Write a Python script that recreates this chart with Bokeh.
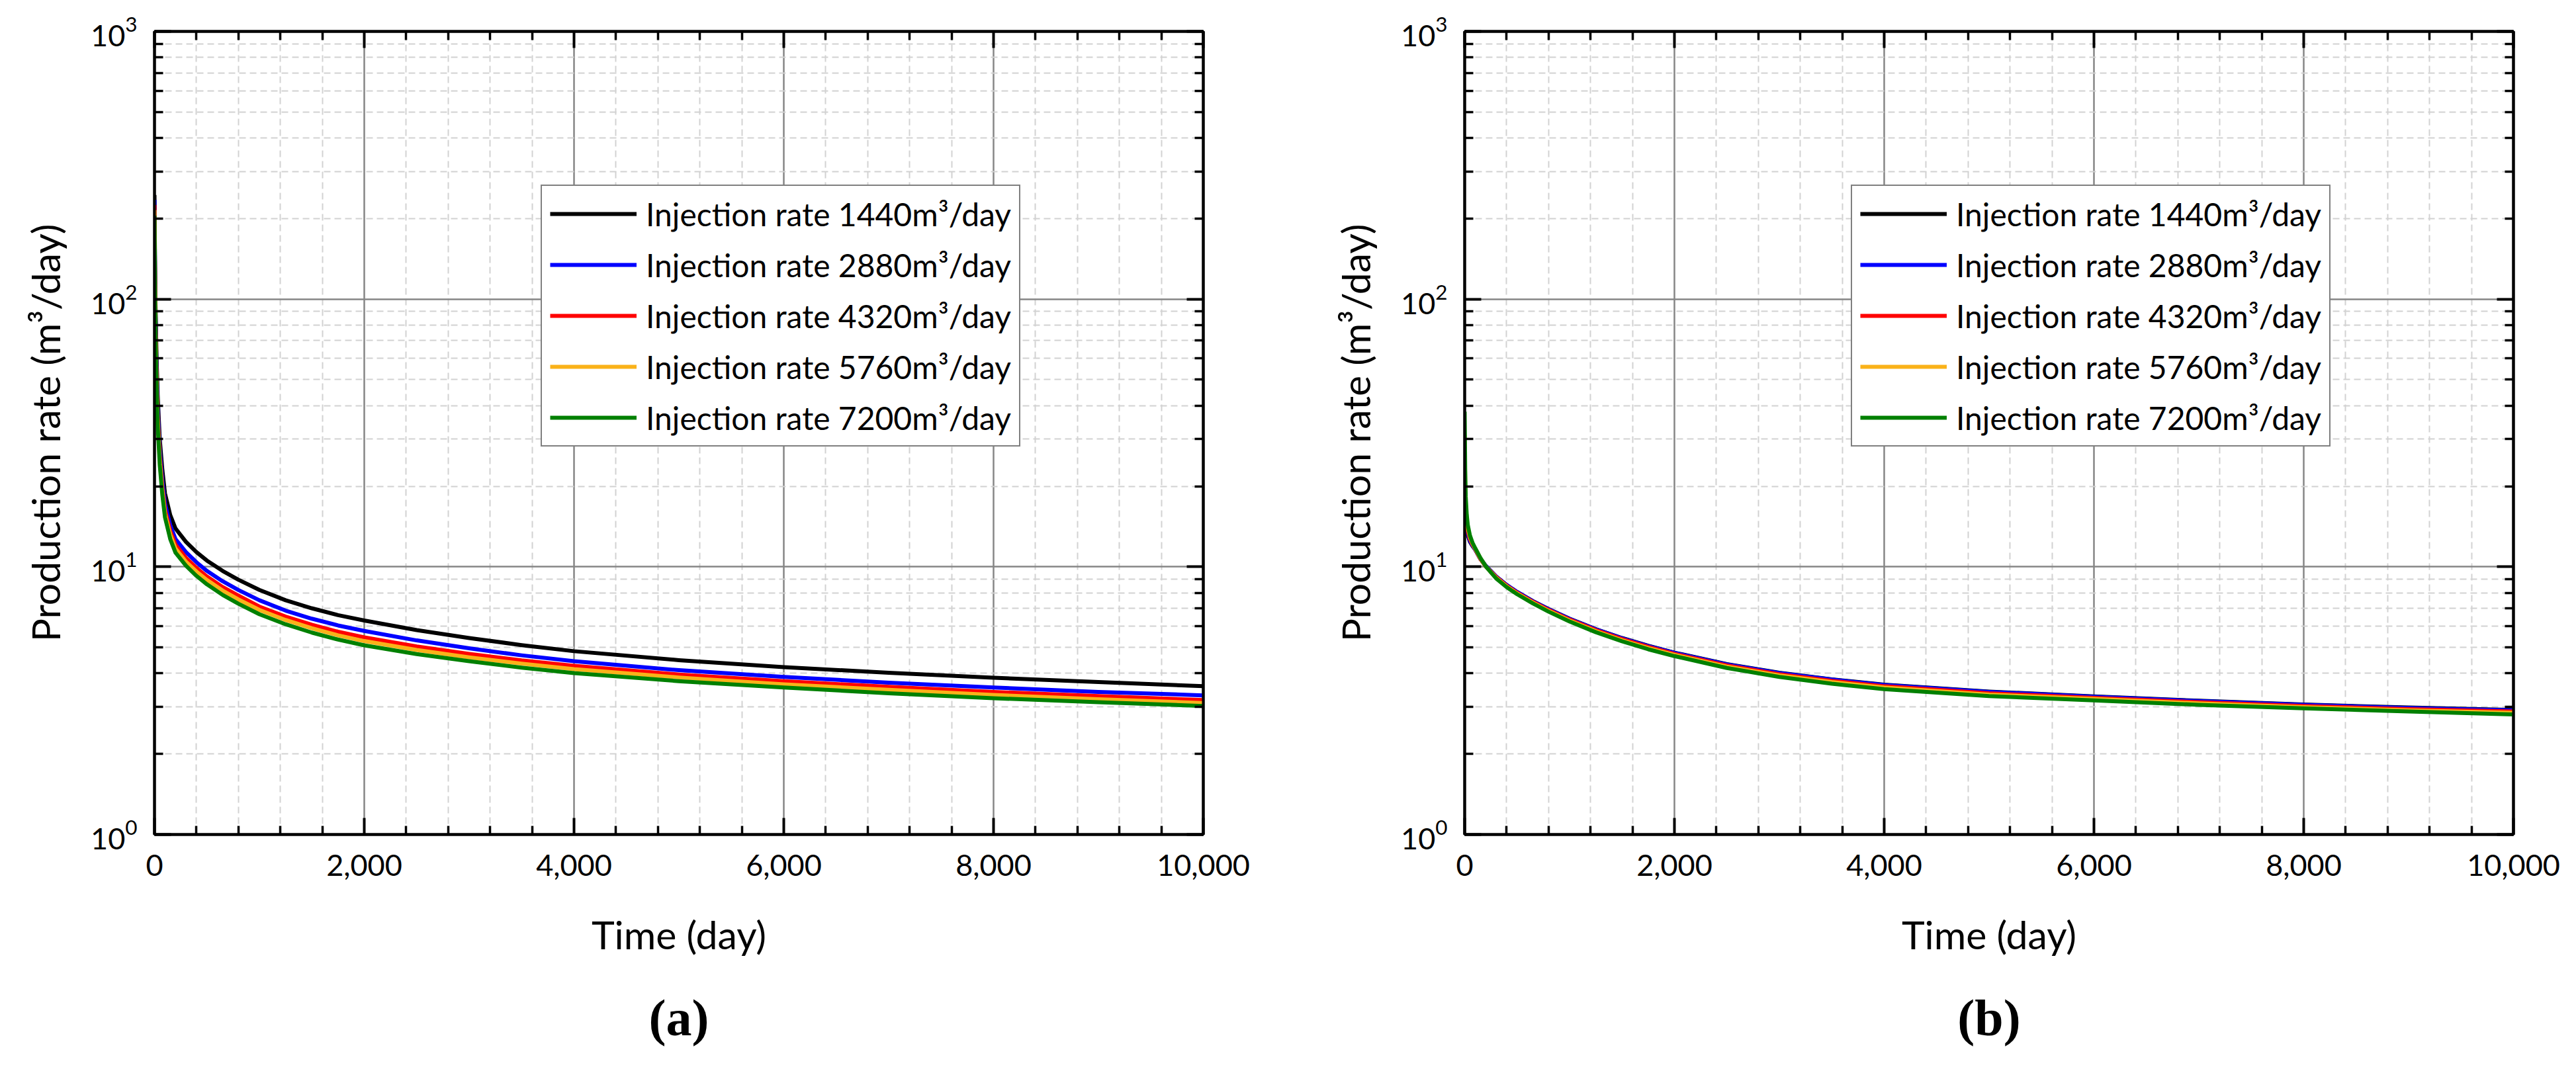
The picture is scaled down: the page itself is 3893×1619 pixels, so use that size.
from bokeh.plotting import figure
from bokeh.layouts import row
from bokeh.models import (FixedTicker, NumeralTickFormatter, CustomJSTickFormatter, LinearAxis,
                          LogAxis, Legend, LegendItem, Title)
from bokeh.embed import file_html
from bokeh.resources import INLINE

# ---------------- data ----------------
time_days = [0, 5, 10, 20, 30, 50, 75, 100, 150, 200, 300, 400, 500, 650, 800, 1000,
             1250, 1500, 1750, 2000, 2500, 3000, 3500, 4000, 5000, 6000, 7000, 8000,
             9000, 10000]

series_labels = ["Injection rate 1440m³/day", "Injection rate 2880m³/day",
                 "Injection rate 4320m³/day", "Injection rate 5760m³/day",
                 "Injection rate 7200m³/day"]
series_colors = ["#000000", "#0000ff", "#ff0000", "#fab219", "#008000"]

# panel (a)
a_1440 = [245, 140, 95, 60, 44, 30, 23, 18.8, 15.6, 13.9, 12.4, 11.35, 10.55, 9.65, 8.95, 8.2,
          7.5, 7.0, 6.6, 6.3, 5.8, 5.42, 5.1, 4.84, 4.48, 4.22, 4.02, 3.85, 3.71, 3.58]
a_2880 = [235, 128, 86, 54, 40, 27.5, 21, 17.2, 14.3, 12.7, 11.35, 10.4, 9.65, 8.83, 8.19, 7.5,
          6.86, 6.4, 6.04, 5.76, 5.31, 4.96, 4.67, 4.44, 4.11, 3.88, 3.69, 3.54, 3.41, 3.31]
a_4320 = [225, 120, 80, 50, 37, 26, 19.8, 16.3, 13.6, 12.1, 10.8, 9.9, 9.2, 8.4, 7.8, 7.1,
          6.52, 6.08, 5.72, 5.45, 5.04, 4.73, 4.47, 4.27, 3.96, 3.74, 3.56, 3.41, 3.29, 3.18]
a_5760 = [215, 114, 77, 48, 36, 25, 19.2, 15.8, 13.2, 11.7, 10.45, 9.6, 8.93, 8.15, 7.55, 6.9,
          6.33, 5.9, 5.55, 5.28, 4.89, 4.59, 4.35, 4.15, 3.86, 3.64, 3.47, 3.32, 3.20, 3.10]
a_7200 = [205, 108, 73, 46, 34, 24, 18.5, 15.3, 12.7, 11.3, 10.1, 9.25, 8.6, 7.85, 7.28, 6.65,
          6.1, 5.68, 5.35, 5.09, 4.72, 4.44, 4.2, 4.01, 3.74, 3.54, 3.37, 3.23, 3.12, 3.02]

# panel (b)
b_1440 = [17, 15.5, 14.6, 13.7, 13.1, 12.4, 11.95, 11.6, 10.7, 10.1, 9.2, 8.55, 8.05, 7.45,
          6.95, 6.4, 5.85, 5.42, 5.07, 4.78, 4.33, 4.02, 3.8, 3.63, 3.42, 3.28, 3.16, 3.06,
          2.98, 2.92]
b_2880 = [20, 16.5, 15.2, 14.0, 13.3, 12.5, 12.0, 11.6, 10.7, 10.1, 9.2, 8.55, 8.05, 7.44,
          6.94, 6.39, 5.84, 5.41, 5.06, 4.77, 4.32, 4.01, 3.79, 3.62, 3.41, 3.27, 3.15, 3.05,
          2.97, 2.91]
b_4320 = [25, 18.5, 16.2, 14.5, 13.6, 12.7, 12.1, 11.65, 10.7, 10.05, 9.15, 8.5, 8.0, 7.4,
          6.9, 6.35, 5.8, 5.37, 5.02, 4.73, 4.28, 3.97, 3.75, 3.58, 3.37, 3.24, 3.12, 3.02,
          2.94, 2.88]
b_5760 = [31, 20.5, 17.2, 15.0, 13.9, 12.9, 12.2, 11.7, 10.75, 10.05, 9.1, 8.45, 7.95, 7.35,
          6.85, 6.3, 5.75, 5.32, 4.97, 4.69, 4.24, 3.93, 3.71, 3.54, 3.33, 3.21, 3.09, 2.99,
          2.91, 2.85]
b_7200 = [38, 23, 18.3, 15.6, 14.3, 13.1, 12.3, 11.75, 10.8, 10.05, 9.05, 8.4, 7.9, 7.3,
          6.8, 6.25, 5.7, 5.27, 4.92, 4.64, 4.19, 3.88, 3.66, 3.49, 3.29, 3.17, 3.05, 2.96,
          2.88, 2.81]

x_major = [0, 2000, 4000, 6000, 8000, 10000]
x_minor = [400, 800, 1200, 1600, 2400, 2800, 3200, 3600, 4400, 4800, 5200, 5600,
           6400, 6800, 7200, 7600, 8400, 8800, 9200, 9600]
y_major = [1, 10, 100, 1000]
y_minor = [2, 3, 4, 5, 6, 7, 8, 9, 20, 30, 40, 50, 60, 70, 80, 90,
           200, 300, 400, 500, 600, 700, 800, 900]

FONT = "Lato"


def style_axis(ax, show_labels):
    ax.axis_line_width = 4
    ax.axis_line_color = "black"
    ax.major_tick_in = 25
    ax.major_tick_out = 0
    ax.minor_tick_in = 13
    ax.minor_tick_out = 0
    ax.major_tick_line_width = 4
    ax.minor_tick_line_width = 3.5
    ax.major_tick_line_color = "black"
    ax.minor_tick_line_color = "black"
    ax.major_label_text_font = FONT
    ax.major_label_text_font_size = "45px"
    ax.major_label_text_color = "black"
    ax.axis_label_text_font = FONT
    ax.axis_label_text_font_size = "59px"
    ax.axis_label_text_font_style = "normal"
    ax.axis_label_text_color = "black"
    if not show_labels:
        ax.formatter = CustomJSTickFormatter(code="return ''")


def make_panel(values, tag, border_right):
    p = figure(frame_width=1585, frame_height=1214, x_range=(0, 10000), y_range=(1, 1000),
               y_axis_type="log", output_backend="svg", toolbar_location=None,
               min_border_left=233, min_border_right=border_right, min_border_top=47,
               min_border_bottom=358, background_fill_color="white",
               border_fill_color="white")
    p.outline_line_color = "black"
    p.outline_line_width = 4

    p.xaxis.ticker = FixedTicker(ticks=x_major, minor_ticks=x_minor)
    p.xaxis.formatter = NumeralTickFormatter(format="0,0")
    p.yaxis.ticker = FixedTicker(ticks=y_major, minor_ticks=y_minor)
    p.xaxis.axis_label = "Time (day)"
    p.yaxis.axis_label = "Production rate (m³/day)"
    for ax in p.xaxis + p.yaxis:
        style_axis(ax, True)
    p.xaxis.major_label_standoff = 30
    p.yaxis.major_label_standoff = 26
    p.xaxis.axis_label_standoff = 50
    p.yaxis.axis_label_standoff = 30

    top = LinearAxis(ticker=FixedTicker(ticks=x_major, minor_ticks=x_minor))
    style_axis(top, False)
    p.add_layout(top, "above")
    right = LogAxis(ticker=FixedTicker(ticks=y_major, minor_ticks=y_minor))
    style_axis(right, False)
    p.add_layout(right, "right")

    for g in p.xgrid + p.ygrid:
        g.grid_line_color = "#868686"
        g.grid_line_width = 2.5
        g.minor_grid_line_color = "#d2d2d2"
        g.minor_grid_line_width = 2
        g.minor_grid_line_dash = "10 6"
    p.xgrid.ticker = FixedTicker(ticks=x_major, minor_ticks=x_minor)
    p.ygrid.ticker = FixedTicker(ticks=y_major, minor_ticks=y_minor)

    items = []
    for vals, lab, col in zip(values, series_labels, series_colors):
        r = p.line(time_days, vals, line_color=col, line_width=6, line_join="round")
        items.append(LegendItem(label=lab, renderers=[r]))

    leg = Legend(items=items, location=(584, 586))
    leg.label_text_font = FONT
    leg.label_text_font_size = "48px"
    leg.label_text_color = "black"
    leg.glyph_width = 131
    leg.glyph_height = 60
    leg.label_height = 60
    leg.label_standoff = 14
    leg.spacing = 17
    leg.padding = 12
    leg.margin = 0
    leg.border_line_color = "black"
    leg.border_line_width = 2
    leg.background_fill_color = "white"
    leg.background_fill_alpha = 1
    p.add_layout(leg, "center")

    t = Title(text=tag, align="center", text_font="Liberation Serif", text_font_style="bold",
              text_font_size="78px", text_color="black", offset=-75, standoff=84)
    p.add_layout(t, "below")
    return p


p1 = make_panel([a_1440, a_2880, a_4320, a_5760, a_7200], "(a)", 162)
p2 = make_panel([b_1440, b_2880, b_4320, b_5760, b_7200], "(b)", 95)

layout = row(p1, p2, spacing=0)
open("out.html", "w").write(file_html(layout, INLINE))
